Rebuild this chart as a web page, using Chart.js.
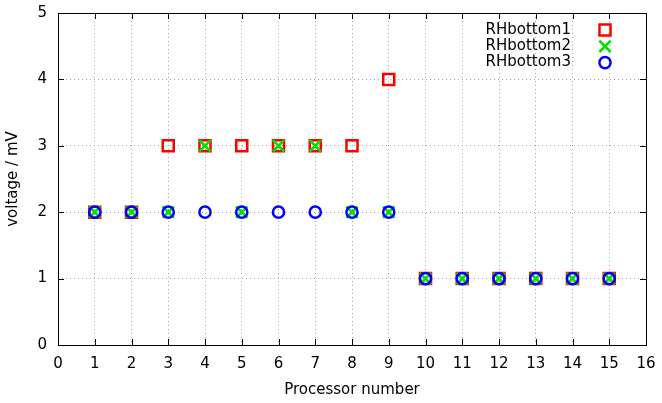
<!DOCTYPE html>
<html>
<head>
<meta charset="utf-8">
<script src="https://cdn.jsdelivr.net/npm/chart.js@4/dist/chart.umd.min.js"></script>
<style>
  html, body { margin: 0; padding: 0; background: #fff; }
  #wrap { width: 662px; height: 403px; }
</style>
</head>
<body>
<div id="wrap"><canvas id="chart"></canvas></div>
<script>
// dados
const processors = [1, 2, 3, 4, 5, 6, 7, 8, 9, 10, 11, 12, 13, 14, 15];
const rhBottom1 = [2, 2, 3, 3, 3, 3, 3, 3, 4, 1, 1, 1, 1, 1, 1];
const rhBottom2 = [2, 2, 2, 3, 2, 3, 3, 2, 2, 1, 1, 1, 1, 1, 1];
const rhBottom3 = [2, 2, 2, 2, 2, 2, 2, 2, 2, 1, 1, 1, 1, 1, 1];
const seriesNames = ['RHbottom1', 'RHbottom2', 'RHbottom3'];
const xTicks = [0, 1, 2, 3, 4, 5, 6, 7, 8, 9, 10, 11, 12, 13, 14, 15, 16];
const yTicks = [0, 1, 2, 3, 4, 5];

const FONT = 'DejaVu Sans';
const FONT_SIZE = 15;
const toPoints = (vals) => vals.map((v, i) => ({ x: processors[i], y: v }));

const styles = [
    { color: '#ff0000', pointStyle: 'rect', radius: 7.8, width: 2.5, order: 3 },
    { color: '#00e000', pointStyle: 'crossRot', radius: 8, width: 2.6, order: 2 },
    { color: '#0000ff', pointStyle: 'circle', radius: 5.6, width: 2.5, order: 1 }
];
const allSeries = [rhBottom1, rhBottom2, rhBottom3];

// moldura + ticks internos (estilo gnuplot) + legenda
const framePlugin = {
    id: 'frame',
    afterDraw(chart) {
        const { ctx, chartArea: a, scales } = chart;
        ctx.save();
        ctx.strokeStyle = '#000';
        ctx.lineWidth = 1;
        const tl = 6;
        ctx.beginPath();
        xTicks.forEach(v => {
            const px = Math.round(scales.x.getPixelForValue(v)) + 0.5;
            ctx.moveTo(px, a.bottom); ctx.lineTo(px, a.bottom - tl);
            ctx.moveTo(px, a.top); ctx.lineTo(px, a.top + tl);
        });
        yTicks.forEach(v => {
            const py = Math.round(scales.y.getPixelForValue(v)) + 0.5;
            ctx.moveTo(a.left, py); ctx.lineTo(a.left + tl, py);
            ctx.moveTo(a.right, py); ctx.lineTo(a.right - tl, py);
        });
        ctx.stroke();
        ctx.strokeRect(Math.round(a.left) + 0.5, Math.round(a.top) + 0.5,
            Math.round(a.right - a.left), Math.round(a.bottom - a.top));

        // legenda (texto à esquerda, símbolo à direita)
        ctx.font = FONT_SIZE + 'px "' + FONT + '"';
        ctx.textAlign = 'right';
        ctx.textBaseline = 'middle';
        seriesNames.forEach((name, i) => {
            const y = 30 + i * 16.3;
            ctx.fillStyle = '#000';
            ctx.fillText(name, 571, y);
            const s = styles[i];
            ctx.strokeStyle = s.color;
            ctx.fillStyle = 'rgba(0,0,0,0)';
            ctx.lineWidth = s.width;
            Chart.helpers.drawPoint(ctx, { pointStyle: s.pointStyle, radius: s.radius, rotation: 0, borderWidth: s.width }, 605, y);
        });
        ctx.restore();
    }
};

const ctx = document.getElementById('chart').getContext('2d');
new Chart(ctx, {
    type: 'scatter',
    data: {
        datasets: allSeries.map((vals, i) => ({
            label: seriesNames[i],
            data: toPoints(vals),
            pointStyle: styles[i].pointStyle,
            pointRadius: styles[i].radius,
            pointHoverRadius: styles[i].radius,
            pointBorderWidth: styles[i].width,
            borderColor: styles[i].color,
            backgroundColor: 'rgba(0,0,0,0)',
            order: styles[i].order,
            showLine: false
        }))
    },
    options: {
        responsive: true,
        maintainAspectRatio: false,
        animation: false,
        layout: { padding: { top: 13, right: 16, left: 0, bottom: 0 } },
        plugins: { legend: { display: false }, tooltip: { enabled: false } },
        scales: {
            x: {
                type: 'linear', min: 0, max: 16,
                afterBuildTicks: (s) => { s.ticks = xTicks.map(v => ({ value: v })); },
                afterFit: (s) => { s.height = 58; s.paddingLeft = 0; s.paddingRight = 0; },
                ticks: { font: { family: FONT, size: FONT_SIZE }, color: '#000', padding: 10 },
                grid: { color: '#a8a8a8', lineWidth: 1, drawTicks: false },
                border: { display: false, dash: [1, 3] },
                title: { display: true, text: 'Processor number', font: { family: FONT, size: FONT_SIZE }, color: '#000', padding: { top: 4 } }
            },
            y: {
                type: 'linear', min: 0, max: 5,
                afterBuildTicks: (s) => { s.ticks = yTicks.map(v => ({ value: v })); },
                afterFit: (s) => { s.width = 58; s.paddingTop = 0; s.paddingBottom = 0; },
                ticks: { font: { family: FONT, size: FONT_SIZE }, color: '#000', padding: 11 },
                grid: { color: '#a8a8a8', lineWidth: 1, drawTicks: false },
                border: { display: false, dash: [1, 3] },
                title: { display: true, text: 'voltage / mV', font: { family: FONT, size: FONT_SIZE }, color: '#000', padding: { top: 4, bottom: 0 } }
            }
        }
    },
    plugins: [framePlugin]
});
</script>
</body>
</html>
